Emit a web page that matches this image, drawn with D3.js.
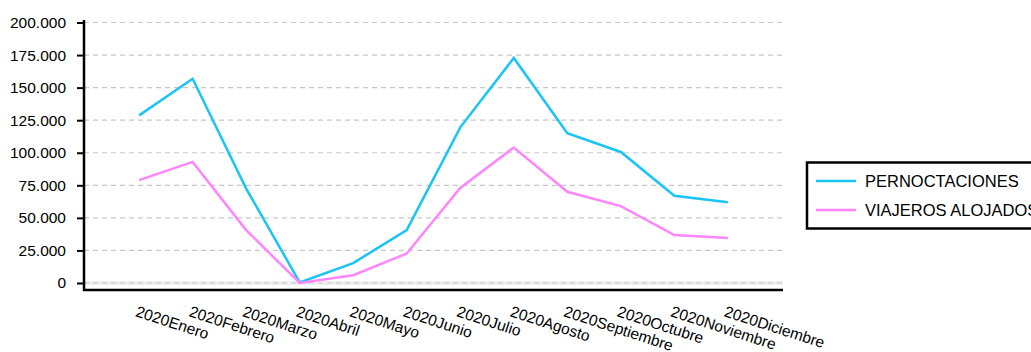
<!DOCTYPE html>
<html>
<head>
<meta charset="utf-8">
<script src="https://cdn.jsdelivr.net/npm/d3@7"></script>
<style>
  body { margin: 0; background: #fff; }
  svg { display: block; font-family: "Liberation Sans", Arial, sans-serif; }
</style>
</head>
<body>
<svg id="chart" width="1031" height="352"></svg>
<script>
const categories = ["2020Enero","2020Febrero","2020Marzo","2020Abril","2020Mayo","2020Junio","2020Julio","2020Agosto","2020Septiembre","2020Octubre","2020Noviembre","2020Diciembre"];
const pernoctaciones = [128700, 156800, 72500, 500, 15300, 40600, 119500, 172800, 115000, 100600, 67000, 62000];
const viajeros = [79000, 93000, 40600, 0, 6000, 22600, 73000, 104000, 70000, 59000, 36800, 34500];
const seriesNames = ["PERNOCTACIONES", "VIAJEROS ALOJADOS"];
const seriesColors = ["#1ac4f6", "#ff85fb"];
const yTicks = [0, 25000, 50000, 75000, 100000, 125000, 150000, 175000, 200000];

const svg = d3.select("#chart");
const plotLeft = 84, plotRight = 783, plotTop = 22.5, zeroY = 283, axisY = 290;

const x = d3.scalePoint().domain(categories).range([plotLeft, plotRight]).padding(1.03);
const y = d3.scaleLinear().domain([0, 200000]).range([zeroY, plotTop]);
const fmt = v => d3.format(",")(v).replace(/,/g, ".");

// zero band
svg.append("line").attr("x1", plotLeft).attr("x2", plotRight).attr("y1", y(0)).attr("y2", y(0))
  .attr("stroke", "#efefef").attr("stroke-width", 4);

// gridlines
svg.append("g").selectAll("line").data(yTicks).join("line")
  .attr("x1", plotLeft).attr("x2", plotRight)
  .attr("y1", d => y(d)).attr("y2", d => y(d))
  .attr("stroke", "#c8c8c8").attr("stroke-width", 1.2).attr("stroke-dasharray", "5,4");

// y axis
const yAxis = svg.append("g").attr("transform", `translate(${plotLeft},0)`)
  .call(d3.axisLeft(y).tickValues(yTicks).tickFormat(fmt).tickSize(7).tickPadding(11));
yAxis.select(".domain").remove();
yAxis.selectAll(".tick line").attr("stroke", "#000").attr("stroke-width", 2);
yAxis.selectAll("text").attr("font-size", 15.5).attr("fill", "#000")
  .attr("font-family", "Liberation Sans, Arial, sans-serif");
svg.append("line").attr("x1", plotLeft).attr("x2", plotLeft).attr("y1", 20).attr("y2", axisY + 1)
  .attr("stroke", "#000").attr("stroke-width", 2.5);

// x axis
svg.append("line").attr("x1", plotLeft - 1).attr("x2", plotRight).attr("y1", axisY).attr("y2", axisY)
  .attr("stroke", "#000").attr("stroke-width", 2.5);
const xAxis = svg.append("g").attr("transform", `translate(0,${axisY})`)
  .call(d3.axisBottom(x).tickSize(0).tickPadding(0));
xAxis.select(".domain").remove();
xAxis.selectAll("text")
  .attr("font-size", 15.5).attr("fill", "#000")
  .attr("font-family", "Liberation Sans, Arial, sans-serif")
  .attr("text-anchor", "start")
  .attr("dy", "0")
  .attr("y", 0)
  .attr("transform", "translate(-5,26) rotate(18)");

// lines
const line = d3.line().x((d, i) => x(categories[i])).y(d => y(d));
[pernoctaciones, viajeros].forEach((s, k) => {
  svg.append("path").datum(s).attr("d", line)
    .attr("fill", "none").attr("stroke", seriesColors[k]).attr("stroke-width", 2.5)
    .attr("stroke-linejoin", "miter");
});

// legend
const lg = svg.append("g");
lg.append("rect").attr("x", 807).attr("y", 162.5).attr("width", 240).attr("height", 66)
  .attr("fill", "#fff").attr("stroke", "#000").attr("stroke-width", 2.5);
seriesNames.forEach((n, i) => {
  const yy = 181 + i * 29;
  lg.append("line").attr("x1", 816).attr("x2", 856).attr("y1", yy).attr("y2", yy)
    .attr("stroke", seriesColors[i]).attr("stroke-width", 2.5);
  lg.append("text").attr("x", 865).attr("y", yy + 5.5).text(n)
    .attr("font-size", 16.5).attr("fill", "#000");
});
</script>
</body>
</html>
